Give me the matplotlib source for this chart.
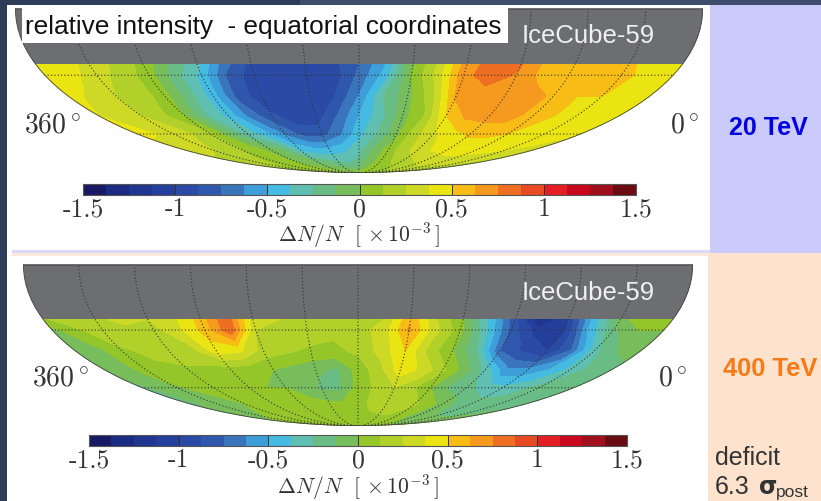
import numpy as np
import matplotlib
matplotlib.use('Agg')
import matplotlib.pyplot as plt
from matplotlib.colors import ListedColormap
from matplotlib.patches import Rectangle

W, H = 821, 502

# declination rows and right ascension columns (degrees)
dec = [-25, -30, -40, -50, -60, -70, -80, -90]
ra = [360, 345, 330, 315, 300, 285, 270, 255, 240, 225, 210, 195, 180,
      165, 150, 135, 120, 105, 90, 75, 60, 45, 30, 15, 0]

# relative intensity x 1e-3
map_20tev = [
    [.45, .44, .33, .22, .08, -.15, -.35, -.70, -.92, -.97, -.97, -.92, -.75, -.5, -.02, .28, .70, .80, .76, .58, .60, .55, .52, .45, .45],
    [.45, .42, .30, .20, .05, -.20, -.42, -.78, -.95, -.97, -.97, -.95, -.72, -.45, .0, .30, .72, .80, .74, .58, .60, .55, .55, .45, .45],
    [.42, .35, .25, .20, .05, -.20, -.45, -.80, -.95, -.97, -.97, -.88, -.62, -.25, -.05, .20, .65, .70, .68, .68, .60, .50, .50, .45, .42],
    [.38, .30, .25, .15, .0, -.25, -.42, -.68, -.85, -.95, -.95, -.75, -.50, -.30, -.05, .12, .50, .66, .68, .68, .55, .50, .48, .45, .42],
    [.42, .38, .33, .25, .15, -.10, -.30, -.45, -.65, -.80, -.80, -.65, -.42, -.25, -.05, .20, .35, .45, .52, .52, .50, .47, .45, .42, .38],
    [.30, .28, .25, .20, .12, .05, -.05, -.15, -.40, -.45, -.45, -.40, -.30, -.10, .05, .20, .30, .38, .42, .43, .42, .40, .38, .35, .30],
    [.20, .18, .15, .12, .10, .05, .0, -.05, -.10, -.15, -.20, -.25, -.20, -.05, .05, .10, .15, .20, .25, .28, .28, .25, .25, .22, .20],
    [.05] * 25,
]

# relative intensity x 1e-3
map_400tev = [
    [.10, .20, .20, .30, .25, .35, .55, .85, .30, .25, .20, .15, .20, .25, .60, .25, .0, -.40, -.85, -1.3, -1.0, -.45, -.05, .10, .05],
    [-.05, .10, .20, .20, .20, .35, .55, .85, .25, .20, .20, .15, .20, .30, .65, .30, .05, -.35, -.80, -1.05, -1.1, -.50, -.15, .0, .0],
    [-.10, -.05, .10, .15, .20, .20, .45, .40, .20, .15, .10, .10, .15, .30, .50, .20, .0, -.25, -.75, -.90, -1.0, -.75, -.30, -.12, -.08],
    [-.10, -.05, .05, .10, .10, .10, .05, .05, .0, -.05, -.10, -.15, .05, .20, .45, .35, .15, -.05, -.30, -.60, -.60, -.50, -.35, -.20, -.15],
    [-.15, -.10, -.02, .03, .10, .05, .05, .0, .0, -.05, -.15, -.15, .05, .15, .25, .15, .0, -.15, -.20, -.30, -.35, -.30, -.20, -.15, -.12],
    [-.15, -.12, -.08, -.05, .0, .05, .05, .05, .05, .03, .03, .03, .08, .15, .20, .20, .15, .05, -.05, -.15, -.20, -.20, -.20, -.20, -.15],
    [-.05, -.02, .0, .02, .05, .05, .05, .05, .05, .05, .05, .05, .08, .10, .10, .10, .05, .0, -.05, -.10, -.12, -.12, -.12, -.10, -.08],
    [.05] * 25,
]

levels = np.linspace(-1.5, 1.5, 25)
bar_colors = ['#191a66', '#1b2a82', '#20368f', '#243f9b', '#2a4aa5', '#2f58ad', '#3a74ba', '#3e9ed9',
              '#45bbe2', '#5fc0b2', '#69bd84', '#78bd5c', '#94c62a', '#b1d02a', '#ced925', '#e9e412',
              '#f7bd16', '#f59a1e', '#ef6f22', '#e84b23', '#e31e24', '#c9081e', '#a0101c', '#6a0c12']
cmap = ListedColormap(bar_colors)

bar_ticks = [-1.5, -1, -0.5, 0, 0.5, 1, 1.5]
bar_labels = ['-1.5', '-1', '-0.5', '0', '0.5', '1', '1.5']
grid_ra = [30, 60, 90, 120, 150, 180, 210, 240, 270, 300, 330]
grid_dec = [-30, -60]

plt.rcParams['mathtext.fontset'] = 'cm'
plt.rcParams['axes.unicode_minus'] = False
serif = 'cmr10'
sans = 'Liberation Sans'
grey = '#6d6e71'
ink = '#333333'
dot = (0, (1, 2))

fig = plt.figure(figsize=(W / 100, H / 100), dpi=100)


def px_axes(x0, y0, x1, y1, **kw):
    # axes from pixel box, y measured from the top of the image
    return fig.add_axes([x0 / W, 1 - y1 / H, (x1 - x0) / W, (y1 - y0) / H], **kw)


def to_lon(r):
    return np.radians(180 - np.asarray(r, dtype=float))


def draw_map(cx, a, top, b, values, bar_box, label_y, x360, x0, ylab, cube_y):
    # only the southern half of the ellipse is inside the panel
    ax = px_axes(cx - a, top - b, cx + a, top + b, projection='mollweide')
    ax.set_aspect('auto')
    ax.grid(False)
    ax.patch.set_visible(False)
    ax.spines['geo'].set_visible(False)
    ax.xaxis.set_visible(False)
    ax.yaxis.set_visible(False)

    lon_line = np.linspace(-np.pi, np.pi, 200)
    lat_line = np.radians(np.linspace(-90, 0, 100))
    ax.fill_between(lon_line, np.radians(-25), 0, color=grey, lw=0)

    cs = ax.contourf(to_lon(ra), np.radians(dec), np.array(values), levels=levels, cmap=cmap)

    for r in grid_ra:
        ax.plot(np.full(100, to_lon(r)), lat_line, ls=dot, color='#333333', lw=0.8)
    for d in grid_dec:
        ax.plot(lon_line, np.full(200, np.radians(d)), ls=dot, color='#333333', lw=0.8)
    ax.plot(np.full(100, -np.pi), lat_line, color='#444444', lw=1.2)
    ax.plot(np.full(100, np.pi), lat_line, color='#444444', lw=1.2)
    ax.plot(lon_line, np.zeros(200), color='#555555', lw=1.2)

    cax = px_axes(*bar_box)
    cb = fig.colorbar(cs, cax=cax, orientation='horizontal', drawedges=False)
    cb.set_ticks(bar_ticks, labels=bar_labels)
    cb.ax.tick_params(direction='in', length=8, width=0.7, color='#333333', pad=1, labelsize=18.5, labelcolor=ink)
    for lab in cb.ax.get_xticklabels():
        lab.set_family(serif)
    cb.outline.set_edgecolor('#555555')
    cb.outline.set_linewidth(0.8)

    fig.text(cx / W, 1 - label_y / H, r'$\Delta N/N\ \ [\,\times 10^{-3}\,]$', color=ink, fontsize=15.6,
             ha='center', va='center', zorder=6)
    fig.text(x360 / W, 1 - ylab / H, '360' + r'$^\circ$', family=serif, color=ink, fontsize=20,
             ha='center', va='center', zorder=6)
    fig.text(x0 / W, 1 - ylab / H, '0' + r'$^\circ$', family=serif, color=ink, fontsize=20,
             ha='center', va='center', zorder=6)
    fig.text(588 / W, 1 - cube_y / H, 'IceCube-59', family=sans, color='#f0f0f0', fontsize=18.5,
             ha='center', va='center', zorder=6)


# backdrop panels in image pixels
bg = px_axes(0, 0, W, H, zorder=-1)
bg.set_xlim(0, W)
bg.set_ylim(H, 0)
bg.axis('off')
bg.add_patch(Rectangle((0, 0), W, H, color='#2c3c59', lw=0))
bg.add_patch(Rectangle((300, 0), W - 300, 6, color='#3e4d6b', lw=0))
bg.add_patch(Rectangle((7, 6), 703, 244, color='white', lw=0))
bg.add_patch(Rectangle((7, 250), 703, 252, color='white', lw=0))
bg.add_patch(Rectangle((710, 6), W - 710, 248, color='#cbcbfb', lw=0))
bg.add_patch(Rectangle((12, 251), 698, 3, color='#dcd8fb', lw=0))
bg.add_patch(Rectangle((12, 254), 698, 3, color='#fbeadb', lw=0))
bg.add_patch(Rectangle((708, 254), W - 708, H - 254, color='#fde3cd', lw=0))

draw_map(359, 344, 10, 164, map_20tev, (83, 185, 636, 196), 235, 52, 685, 125, 36)
draw_map(358, 335, 266, 161, map_400tev, (89, 436, 627, 447), 487, 60, 673, 378, 293)

# pasted caption box over the top map
top = px_axes(0, 0, W, H, zorder=5)
top.set_xlim(0, W)
top.set_ylim(H, 0)
top.axis('off')
top.add_patch(Rectangle((22, 9), 486, 35, color='white', lw=0))
top.text(25, 27, 'relative intensity  - equatorial coordinates', family=sans, fontsize=18.9, color='#111111',
         ha='left', va='center')
top.text(768, 128, '20 TeV', family=sans, weight='bold', fontsize=18, color='#0000e0', ha='center', va='center')
top.text(770, 369, '400 TeV', family=sans, weight='bold', fontsize=18.4, color='#f47b16', ha='center', va='center')
top.text(715, 458, 'deficit', family=sans, fontsize=18, color=ink, ha='left', va='center')
top.text(715, 487, '6.3', family=sans, fontsize=18, color=ink, ha='left', va='center')
top.text(759, 487, '\u03c3', family='DejaVu Sans', weight='bold', fontsize=17, color=ink, ha='left', va='center')
top.text(776, 493, 'post', family=sans, fontsize=12.5, color=ink, ha='left', va='center')

fig.savefig('out.png', dpi=100)
